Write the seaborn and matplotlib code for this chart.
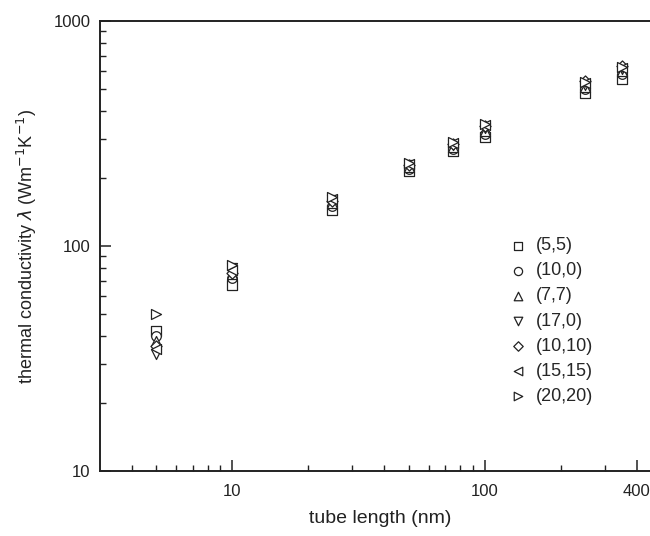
import numpy as np
import pandas as pd
import matplotlib
matplotlib.use("Agg")
import matplotlib.pyplot as plt
from matplotlib.ticker import FixedLocator, NullFormatter, FixedFormatter
import seaborn as sns

# Tube lengths (nm) and thermal conductivity (W m^-1 K^-1) per chirality
lengths = [5, 10, 25, 50, 75, 100, 250, 350]
chiralities = ["(5,5)", "(10,0)", "(7,7)", "(17,0)", "(10,10)", "(15,15)", "(20,20)"]
k_5_5 = [42, 67, 145, 215, 265, 305, 480, 550]
k_10_0 = [40, 72, 150, 220, 270, 315, 500, 580]
k_7_7 = [38, 75, 155, 225, 275, 325, 510, 600]
k_17_0 = [33, 80, 160, 228, 280, 335, 520, 610]
k_10_10 = [36, 76, 158, 230, 285, 340, 540, 630]
k_15_15 = [35, 78, 162, 232, 288, 345, 530, 620]
k_20_20 = [50, 82, 165, 235, 290, 350, 535, 625]
series = [k_5_5, k_10_0, k_7_7, k_17_0, k_10_10, k_15_15, k_20_20]
marker_shapes = ["s", "o", "^", "v", "D", "<", ">"]
marker_sizes = [42, 48, 52, 52, 32, 52, 52]

x_major = [10, 100, 400]
x_major_labels = ["10", "100", "400"]
x_minor = [4, 5, 6, 7, 8, 9, 20, 30, 40, 50, 60, 70, 80, 90, 200, 300, 500]
y_major = [10, 100, 1000]
y_major_labels = ["10", "100", "1000"]

df = pd.DataFrame({
    "length": np.tile(lengths, len(chiralities)),
    "kappa": np.concatenate(series),
    "tube": np.repeat(chiralities, len(lengths)),
})

sns.set_style("white")
plt.rcParams["font.family"] = ["Liberation Sans", "DejaVu Sans"]

ink = "#222222"
fig = plt.figure(figsize=(6.5, 5.36), dpi=100)
ax = fig.add_axes([100 / 650, 1 - 471 / 536, 561 / 650, 450 / 536])

for name, mk, ms in zip(chiralities, marker_shapes, marker_sizes):
    sub = df[df["tube"] == name]
    sns.scatterplot(data=sub, x="length", y="kappa", marker=mk, s=ms,
                    color="white", edgecolor=ink, linewidth=0.9,
                    label=name, ax=ax, zorder=3)

ax.set_xscale("log")
ax.set_yscale("log")
ax.set_xlim(3, 500)
ax.set_ylim(10, 1000)

ax.xaxis.set_major_locator(FixedLocator(x_major))
ax.xaxis.set_major_formatter(FixedFormatter(x_major_labels))
ax.xaxis.set_minor_locator(FixedLocator(x_minor))
ax.xaxis.set_minor_formatter(NullFormatter())
ax.yaxis.set_major_locator(FixedLocator(y_major))
ax.yaxis.set_major_formatter(FixedFormatter(y_major_labels))
ax.yaxis.set_minor_locator(FixedLocator(
    [v * d for d in (10, 100) for v in range(2, 10)]))
ax.yaxis.set_minor_formatter(NullFormatter())

ax.tick_params(which="both", direction="in", bottom=True, left=True,
               top=False, right=False, colors=ink, labelsize=12)
ax.tick_params(which="major", length=8, width=1.1)
ax.tick_params(which="minor", length=4, width=1.0)
ax.tick_params(axis="x", which="major", pad=9)
ax.tick_params(axis="y", which="major", pad=7)

for sp in ax.spines.values():
    sp.set_visible(True)
    sp.set_color(ink)
    sp.set_linewidth(1.4)

ax.set_xlabel("tube length (nm)", fontsize=14, color=ink, labelpad=8)
ax.set_ylabel(r"thermal conductivity $\lambda$ (Wm$^{-1}$K$^{-1}$)",
              fontsize=13, color=ink, labelpad=10)

ax.legend(loc="upper left", bbox_to_anchor=(493 / 650, 1 - 221 / 536),
          bbox_transform=fig.transFigure, frameon=False, fontsize=13,
          handletextpad=0.5, labelspacing=0.45, markerscale=0.85,
          handlelength=1.0)

fig.savefig("out.png", dpi=100)
